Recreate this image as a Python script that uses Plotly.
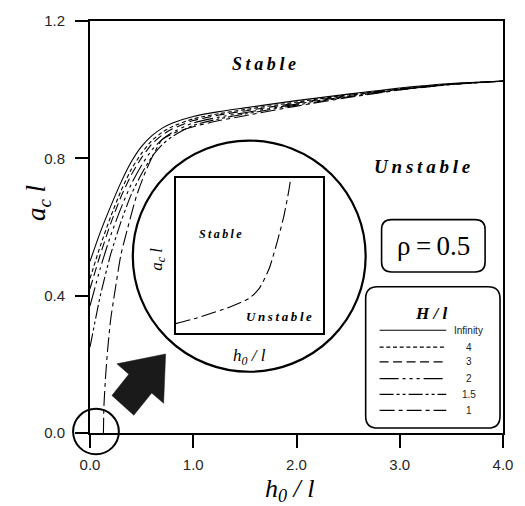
import plotly.graph_objects as go

# ---- critical depth curves a_c*l versus h0/l, one per H/l value ----
h_std = [0, 0.1, 0.2, 0.3, 0.4, 0.5, 0.6, 0.7, 0.8, 1.0, 1.25, 1.5, 2.0, 2.5, 3.0, 3.5, 4.0]
ac_inf = [0.50, 0.585, 0.66, 0.73, 0.79, 0.835, 0.866, 0.888, 0.903, 0.922, 0.936, 0.947, 0.968, 0.987, 1.005, 1.018, 1.025]
ac_4 = [0.45, 0.545, 0.63, 0.705, 0.768, 0.815, 0.852, 0.876, 0.893, 0.915, 0.93, 0.942, 0.964, 0.985, 1.003, 1.017, 1.025]
ac_3 = [0.42, 0.52, 0.61, 0.688, 0.752, 0.802, 0.842, 0.868, 0.886, 0.91, 0.926, 0.938, 0.961, 0.983, 1.002, 1.016, 1.025]
ac_2 = [0.37, 0.48, 0.575, 0.655, 0.725, 0.78, 0.825, 0.855, 0.876, 0.903, 0.92, 0.933, 0.958, 0.981, 1.001, 1.016, 1.025]
ac_15 = [0.25, 0.40, 0.52, 0.615, 0.695, 0.755, 0.805, 0.84, 0.864, 0.896, 0.915, 0.929, 0.955, 0.979, 1.0, 1.015, 1.025]
h_1 = [0.13, 0.135, 0.15, 0.17, 0.2, 0.24, 0.3, 0.35, 0.45, 0.55, 0.7, 0.85, 1.0, 1.25, 1.5, 2.0, 2.5, 3.0, 3.5, 4.0]
ac_1 = [0, 0.08, 0.16, 0.24, 0.33, 0.41, 0.52, 0.58, 0.69, 0.77, 0.855, 0.878, 0.892, 0.91, 0.924, 0.952, 0.977, 0.999, 1.015, 1.025]

# inset: close-up of the H/l = 1 curve near the origin (normalised units)
inset_h = [0, 0.14, 0.365, 0.50, 0.568, 0.635, 0.689, 0.736, 0.770, 0.782]
inset_ac = [0.062, 0.097, 0.168, 0.225, 0.289, 0.416, 0.586, 0.758, 0.925, 1.0]

legend_labels = ["Infinity", "4", "3", "2", "1.5", "1"]
x_ticks = [0, 1, 2, 3, 4]
y_ticks = [0, 0.4, 0.8, 1.2]

series = [
    (h_std, ac_inf, "solid"),
    (h_std, ac_4, "4px,2.7px"),
    (h_std, ac_3, "9px,4.5px"),
    (h_std, ac_2, "19px,4px,3px,4px,3px,4px,3px,4px"),
    (h_std, ac_15, "14px,3px,3px,3px,3px,3px"),
    (h_1, ac_1, "15px,4px,4px,4px"),
]

# plot-area geometry in pixels
L, R, T, B = 90, 505, 16, 433
W, H = 525, 506


def px(x):
    return (x - L) / (R - L)


def py(y):
    return (B - y) / (B - T)


def rrect(x0, y0, x1, y1, r):
    pts = [("M", x0 + r, y0), ("L", x1 - r, y0), ("Q", x1, y0), ("", x1, y0 + r),
           ("L", x1, y1 - r), ("Q", x1, y1), ("", x1 - r, y1), ("L", x0 + r, y1),
           ("Q", x0, y1), ("", x0, y1 - r), ("L", x0, y0 + r), ("Q", x0, y0), ("", x0 + r, y0)]
    s = ""
    for c, x, y in pts:
        s += f"{c}{px(x):.5f},{py(y):.5f} "
    return s + "Z"


def poly(points):
    s = "M" + " L".join(f"{px(x):.5f},{py(y):.5f}" for x, y in points)
    return s + " Z"


fig = go.Figure()
for xs, ys, dash in series:
    fig.add_trace(go.Scatter(x=xs, y=ys, mode="lines", showlegend=False,
                             line=dict(color="black", width=1.1, dash=dash,
                                       shape="spline", smoothing=0.6)))

fig.add_trace(go.Scatter(x=inset_h, y=inset_ac, mode="lines", showlegend=False,
                         xaxis="x2", yaxis="y2",
                         line=dict(color="black", width=1.1, dash="15px,4px,4px,4px",
                                   shape="spline", smoothing=0.6)))

sans = "Liberation Sans"
serif = "Liberation Serif"
axis_common = dict(showline=True, linewidth=2, linecolor="black", mirror=True,
                   ticks="outside", ticklen=13, tickwidth=2, tickcolor="black",
                   showgrid=False, zeroline=False,
                   tickfont=dict(family=sans, size=15, color="#262626"))

fig.update_layout(
    width=W, height=H, autosize=False,
    margin=dict(l=L, r=W - R, t=T, b=H - B),
    paper_bgcolor="white", plot_bgcolor="white",
    xaxis=dict(range=[0, 4], tickvals=x_ticks, tickformat=".1f", ticklabelstandoff=4, **axis_common),
    yaxis=dict(range=[0, 1.2], tickvals=y_ticks, tickformat=".1f", ticklabelstandoff=7, **axis_common),
    xaxis2=dict(domain=[px(176), px(324)], range=[0, 1], anchor="y2", showline=True, mirror=True,
                linewidth=2, linecolor="black", showticklabels=False, ticks="", showgrid=False,
                zeroline=False),
    yaxis2=dict(domain=[py(332), py(175)], range=[0, 1], anchor="x2", showline=True, mirror=True,
                linewidth=2, linecolor="black", showticklabels=False, ticks="", showgrid=False,
                zeroline=False),
)

shapes = []
# big magnifier circle and the small circle round the origin
shapes.append(dict(type="circle", xref="paper", yref="paper",
                   x0=px(250 - 117), x1=px(250 + 117), y0=py(254 + 117), y1=py(254 - 117),
                   line=dict(color="black", width=2.2)))
shapes.append(dict(type="circle", xref="paper", yref="paper",
                   x0=px(96 - 23), x1=px(96 + 23), y0=py(431.5 + 23), y1=py(431.5 - 23),
                   line=dict(color="black", width=2)))
# arrow pointing from the origin circle to the magnifier
arrow = [(112, 395), (134, 415), (152, 392.5), (164, 403), (166, 353), (117, 363), (129, 373.5)]
shapes.append(dict(type="path", xref="paper", yref="paper", path=poly(arrow),
                   fillcolor="#1a1a1a", line=dict(color="#1a1a1a", width=0.5)))
# rho box and legend box
shapes.append(dict(type="path", xref="paper", yref="paper", path=rrect(383, 217, 487, 270, 10),
                   line=dict(color="black", width=1.6)))
shapes.append(dict(type="path", xref="paper", yref="paper", path=rrect(367, 285, 502, 428, 12),
                   line=dict(color="black", width=1.6)))

legend_rows = [329, 346, 361, 378, 394, 410]
annotations = []
for (xs, ys, dash), lab, yr in zip(series, legend_labels, legend_rows):
    shapes.append(dict(type="line", xref="paper", yref="paper",
                       x0=px(381), x1=px(448), y0=py(yr), y1=py(yr),
                       line=dict(color="black", width=1.2, dash=dash)))
    annotations.append(dict(xref="paper", yref="paper", x=px(470.5), y=py(yr), text=lab,
                            font=dict(family=sans, size=10, color="#222")))
fig.update_layout(shapes=shapes)

ts = "\u2009"


def spaced(word):
    return ts.join(word)


annotations += [
    dict(xref="paper", yref="paper", x=px(433), y=py(312), text="<b><i>H / l</i></b>",
         font=dict(family=serif, size=17, color="black")),
    dict(xref="paper", yref="paper", x=px(435), y=py(244), text="\u03c1\u2009=\u20090.5",
         font=dict(family=serif, size=27, color="black")),
    dict(xref="paper", yref="paper", x=px(265), y=py(60), text=f"<b><i>{spaced('Stable')}</i></b>",
         font=dict(family=serif, size=18, color="black")),
    dict(xref="paper", yref="paper", x=px(424), y=py(163), text=f"<b><i>{spaced('Unstable')}</i></b>",
         font=dict(family=serif, size=19, color="black")),
    dict(xref="paper", yref="paper", x=px(221), y=py(232), text=f"<b><i>{spaced('Stable')}</i></b>",
         font=dict(family=serif, size=12, color="black")),
    dict(xref="paper", yref="paper", x=px(280), y=py(315), text=f"<b><i>{spaced('Unstable')}</i></b>",
         font=dict(family=serif, size=13, color="black")),
    dict(xref="paper", yref="paper", x=px(158), y=py(257), text="<i>a<sub>c</sub> l</i>", textangle=-90,
         font=dict(family=serif, size=17, color="black")),
    dict(xref="paper", yref="paper", x=px(250), y=py(356), text="<i>h<sub>0</sub> / l</i>",
         font=dict(family=serif, size=17, color="black")),
    # main axis titles
    dict(xref="paper", yref="paper", x=px(38), y=py(200), text="<i>a<sub>c</sub> l</i>", textangle=-90,
         font=dict(family=serif, size=27, color="black")),
    dict(xref="paper", yref="paper", x=px(291), y=py(491), text="<i>h<sub>0</sub> / l</i>",
         font=dict(family=serif, size=26, color="black")),
]
for a in annotations:
    a.setdefault("showarrow", False)
    a.setdefault("xanchor", "center")
    a.setdefault("yanchor", "middle")
fig.update_layout(annotations=annotations)

fig.write_html("out.html")
